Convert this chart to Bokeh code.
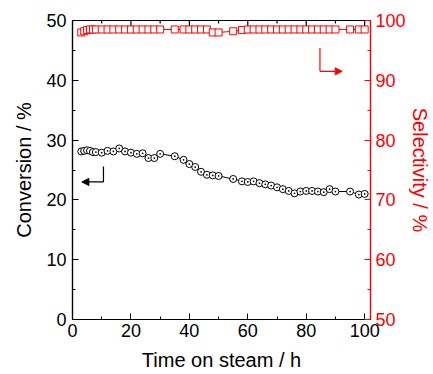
from bokeh.plotting import figure
from bokeh.models import Range1d, LinearAxis, Arrow, NormalHead, ColumnDataSource, FixedTicker
from bokeh.embed import file_html
from bokeh.resources import INLINE

time_h = [3, 4, 5, 6, 7, 8, 10, 12, 14, 16, 18, 20, 22, 24, 26, 28, 30, 35, 38, 40,
          42, 44, 46, 48, 50, 55, 58, 60, 62, 64, 66, 68, 70, 72, 74, 76, 78, 80,
          82, 84, 86, 88, 90, 95, 98, 100]
conversion = [28.1, 28.2, 28.3, 28.2, 28.0, 28.0, 27.9, 28.2, 28.1, 28.6, 28.1, 27.9,
              27.7, 27.8, 27.0, 27.0, 27.7, 27.3, 26.7, 26.0, 25.5, 24.7, 24.2, 24.1,
              24.0, 23.5, 23.1, 23.0, 23.1, 22.8, 22.6, 22.4, 22.1, 21.8, 21.5, 21.1,
              21.4, 21.5, 21.5, 21.4, 21.3, 21.8, 21.4, 21.4, 20.9, 21.0]
selectivity = [98.0, 98.2, 98.4, 98.5, 98.5, 98.5, 98.5, 98.5, 98.5, 98.5, 98.5, 98.5,
               98.5, 98.5, 98.5, 98.5, 98.5, 98.5, 98.5, 98.5, 98.5, 98.5, 98.5, 98.0,
               98.0, 98.2, 98.4, 98.5, 98.5, 98.5, 98.5, 98.5, 98.5, 98.5, 98.5, 98.5,
               98.5, 98.5, 98.5, 98.5, 98.5, 98.5, 98.5, 98.5, 98.5, 98.5]

# arrow guides (data coordinates)
conv_arrow_x = [10.6, 3.2]
conv_arrow_y = [25.6, 23.0]
sel_arrow_x = [84.7, 92.3]
sel_arrow_y = [95.4, 91.5]

x_ticks = [0, 20, 40, 60, 80, 100]
x_minor = [10, 30, 50, 70, 90]
conv_ticks = [0, 10, 20, 30, 40, 50]
sel_ticks = [50, 60, 70, 80, 90, 100]

FONT = "Liberation Sans"
RED = "#ff0000"

p = figure(width=433, height=374, output_backend="svg", toolbar_location=None,
           x_range=Range1d(0, 102), y_range=Range1d(0, 50),
           min_border_left=72, min_border_right=61, min_border_top=20, min_border_bottom=55)
p.extra_y_ranges = {"sel": Range1d(50, 100)}
p.grid.visible = False
p.outline_line_color = "black"
p.outline_line_width = 1.2
p.background_fill_color = "white"
p.border_fill_color = "white"

def style(ax, color):
    ax.axis_line_color = color
    ax.axis_line_width = 1.2
    ax.major_tick_line_color = color
    ax.minor_tick_line_color = color
    ax.major_tick_in = 6
    ax.major_tick_out = 0
    ax.minor_tick_in = 3
    ax.minor_tick_out = 0
    ax.major_label_text_color = color
    ax.major_label_text_font = FONT
    ax.major_label_text_font_size = "18px"
    ax.axis_label_text_color = color
    ax.axis_label_text_font = FONT
    ax.axis_label_text_font_size = "20px"
    ax.axis_label_text_font_style = "normal"

xax = p.xaxis[0]
xax.ticker = FixedTicker(ticks=x_ticks, minor_ticks=x_minor)
xax.axis_label = "Time on steam / h"
style(xax, "black")
xax.major_label_standoff = 4
xax.axis_label_standoff = 9

yax = p.yaxis[0]
yax.ticker = FixedTicker(ticks=conv_ticks, minor_ticks=[5, 15, 25, 35, 45])
yax.axis_label = "Conversion / %"
style(yax, "black")
yax.major_label_standoff = 6
yax.axis_label_standoff = 8

rax = LinearAxis(y_range_name="sel", ticker=FixedTicker(ticks=sel_ticks, minor_ticks=[55, 65, 75, 85, 95]),
                 axis_label="Selectivity / %")
style(rax, RED)
rax.major_label_standoff = 5
rax.axis_label_standoff = 0
p.add_layout(rax, "right")

# inward ticks along the top frame edge, derived from the x tick lists
top = p.y_range.end
p.segment(x0=x_ticks, y0=[top] * len(x_ticks), x1=x_ticks, y1=[top - 1.0] * len(x_ticks),
          line_color="black", line_width=1.2)
p.segment(x0=x_minor, y0=[top] * len(x_minor), x1=x_minor, y1=[top - 0.5] * len(x_minor),
          line_color="black", line_width=1.2)

src = ColumnDataSource(dict(t=time_h, c=conversion, s=selectivity))

p.line("t", "c", source=src, line_color="black", line_width=1)
p.scatter("t", "c", source=src, marker="circle_dot", size=7, line_color="black",
          fill_color="white", line_width=1)

p.line("t", "s", source=src, y_range_name="sel", line_color=RED, line_width=1)
p.scatter("t", "s", source=src, y_range_name="sel", marker="square", size=7,
          line_color=RED, fill_color="white", line_width=1)

# black arrow pointing to left axis
p.segment(x0=[conv_arrow_x[0]], y0=[conv_arrow_y[0]], x1=[conv_arrow_x[0]], y1=[conv_arrow_y[1]],
          line_color="black", line_width=1.2)
p.add_layout(Arrow(end=NormalHead(size=7, fill_color="black", line_color="black"),
                   x_start=conv_arrow_x[0], y_start=conv_arrow_y[1],
                   x_end=conv_arrow_x[1], y_end=conv_arrow_y[1],
                   line_color="black", line_width=1.2))

# red arrow pointing to right axis
p.segment(x0=[sel_arrow_x[0]], y0=[sel_arrow_y[0]], x1=[sel_arrow_x[0]], y1=[sel_arrow_y[1]],
          line_color=RED, line_width=1.2, y_range_name="sel")
p.add_layout(Arrow(end=NormalHead(size=7, fill_color=RED, line_color=RED),
                   x_start=sel_arrow_x[0], y_start=sel_arrow_y[1],
                   x_end=sel_arrow_x[1], y_end=sel_arrow_y[1],
                   line_color=RED, line_width=1.2, y_range_name="sel"))

open("out.html", "w").write(file_html(p, INLINE))
